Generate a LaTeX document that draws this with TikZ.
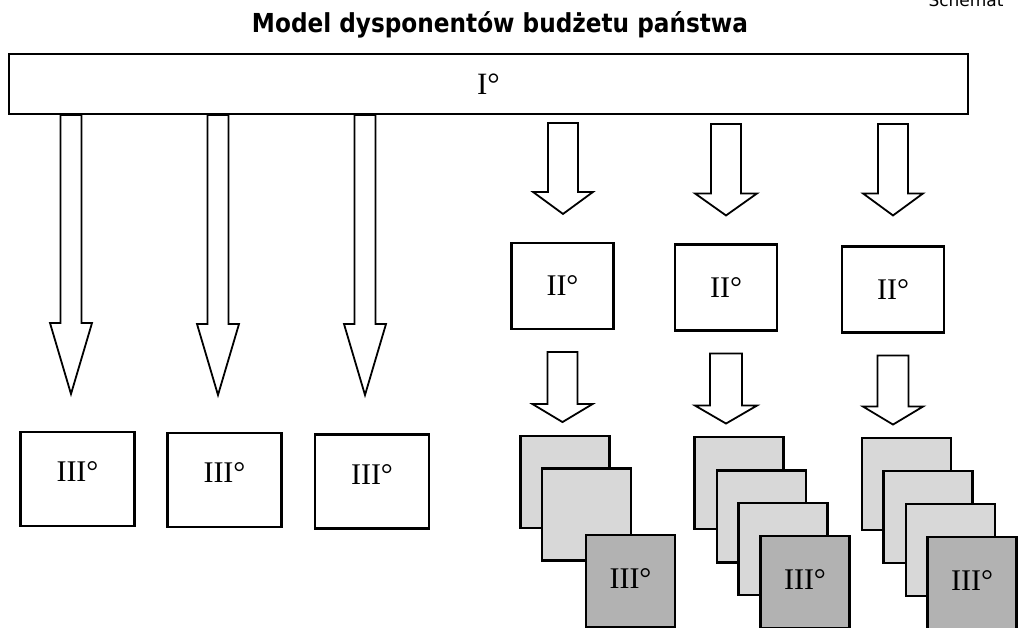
\documentclass[tikz,border=0pt]{standalone}
\usepackage{fontspec}
\setmainfont{Liberation Serif}
\newfontfamily\titlefont{DejaVu Sans}
\usetikzlibrary{calc}

\definecolor{sheetlight}{RGB}{216,216,216}
\definecolor{sheetdark}{RGB}{178,178,178}

% block arrow: #1 start, #2 tip, #3 half shaft width, #4 half head width, #5 head length
\newcommand\blockarrow[5]{%
  \draw[blockarr] ($(#1)+(-#3,0)$) -- ($(#2)+(-#3,-#5)$) -- ($(#2)+(-#4,-#5)$)
    -- (#2) -- ($(#2)+(#4,-#5)$) -- ($(#2)+(#3,-#5)$) -- ($(#1)+(#3,0)$) -- cycle;}

\begin{document}
\begin{tikzpicture}[x=1pt,y=-1pt,
  unit/.style={draw=black, line width=2.1pt, fill=white, inner sep=0pt,
    font=\fontsize{30}{30}\selectfont},
  toplevel/.style={unit, minimum width=959pt, minimum height=60pt,
    font=\fontsize{31}{31}\selectfont},
  secbox/.style={unit, minimum width=102pt, minimum height=86pt},
  thirdbox/.style={unit, minimum width=114pt, minimum height=94pt, text depth=14pt},
  sheet/.style={unit, fill=sheetlight, minimum width=89pt, minimum height=92pt},
  frontsheet/.style={sheet, fill=sheetdark, text depth=5pt},
  blockarr/.style={draw=black, line width=1.8pt, fill=white, line join=miter},
  titletext/.style={font=\titlefont\bfseries\fontsize{25}{30}\selectfont, inner sep=0pt}
]
\fill[white] (0,0) rectangle (1019,627);
\useasboundingbox (0,0) rectangle (1019,627);

% header and title
\node[anchor=base west, font=\titlefont\fontsize{17}{17}\selectfont] (hdr) at (925,6) {Schemat};
\node[titletext, anchor=base] (title) at (500,32) {\resizebox{496pt}{21pt}{Model dysponentów budżetu państwa}};

% first level
\node[toplevel] (I) at (488.5,84) {I°};

% second level
\node[secbox] (IIa) at (562.5,286) {II°};
\node[secbox] (IIb) at (726,287.5) {II°};
\node[secbox] (IIc) at (893,289.5) {II°};

% third level, directly subordinate
\node[thirdbox] (IIIa) at (77.5,479) {III°};
\node[thirdbox] (IIIb) at (224.5,480) {III°};
\node[thirdbox] (IIIc) at (372,481.5) {III°};

% third level, stacked under second level
\node[sheet] (s11) at (565,482) {};
\node[sheet] (s12) at (586.5,514.5) {};
\node[frontsheet] (s13) at (630.5,581) {III°};

\node[sheet] (s21) at (739,483) {};
\node[sheet] (s22) at (761.5,516.5) {};
\node[sheet] (s23) at (783,549) {};
\node[frontsheet] (s24) at (805,582) {III°};

\node[sheet] (s31) at (906.5,484) {};
\node[sheet] (s32) at (928,517) {};
\node[sheet] (s33) at (950.5,550) {};
\node[frontsheet] (s34) at (972,583) {III°};

% long arrows from I to the separate III boxes
\coordinate (tA) at (71,394);
\coordinate (tB) at (218,395);
\coordinate (tC) at (365,395);
\coordinate (sA) at (I.south -| tA);
\coordinate (sB) at (I.south -| tB);
\coordinate (sC) at (I.south -| tC);
\blockarrow{sA}{tA}{10.5}{21}{71}
\blockarrow{sB}{tB}{10.5}{21}{71}
\blockarrow{sC}{tC}{10.5}{21}{71}

% short arrows from I to II
\coordinate (uA) at ($(IIa.north)+(0.5,-28)$);
\coordinate (uB) at ($(IIb.north)+(0,-28)$);
\coordinate (uC) at ($(IIc.north)+(0,-30)$);
\coordinate (vA) at ($(I.south -| uA)+(0,8)$);
\coordinate (vB) at ($(I.south -| uB)+(0,9)$);
\coordinate (vC) at ($(I.south -| uC)+(0,9)$);
\blockarrow{vA}{uA}{15}{30}{22}
\blockarrow{vB}{uB}{15}{31}{22}
\blockarrow{vC}{uC}{15}{30}{22}

% short arrows from II to the stacks
\coordinate (pA) at ($(IIa.south)+(0,22)$);
\coordinate (pB) at ($(IIb.south)+(0,22)$);
\coordinate (pC) at ($(IIc.south)+(0,22)$);
\coordinate (qA) at ($(IIa.south)+(0,92)$);
\coordinate (qB) at ($(IIb.south)+(0,92)$);
\coordinate (qC) at ($(IIc.south)+(0,91)$);
\blockarrow{pA}{qA}{15}{30}{18}
\blockarrow{pB}{qB}{16}{31}{18}
\blockarrow{pC}{qC}{15.5}{30}{18}
\end{tikzpicture}
\end{document}
